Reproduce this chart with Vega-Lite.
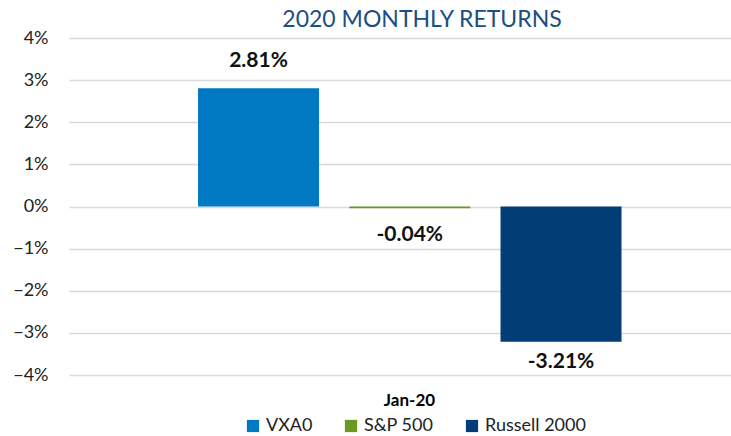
{
  "$schema": "https://vega.github.io/schema/vega-lite/v6.json",
  "autosize": "none",
  "width": 662,
  "height": 337,
  "padding": {"left": 69, "top": 38, "right": 0, "bottom": 61},
  "background": "white",
  "config": {
    "font": "Lato",
    "view": {"stroke": null}
  },
  "title": {
    "text": "2020 MONTHLY RETURNS",
    "anchor": "middle",
    "dx": 22,
    "offset": -3,
    "fontSize": 23,
    "fontWeight": "normal",
    "color": "#1B4F82",
    "font": "Lato"
  },
  "data": {
    "values": [
      {"series": "VXA0", "value": 0.0281, "label": "2.81%"},
      {"series": "S&P 500", "value": -0.0004, "label": "-0.04%"},
      {"series": "Russell 2000", "value": -0.0321, "label": "-3.21%"}
    ]
  },
  "encoding": {
    "x": {
      "field": "series",
      "type": "nominal",
      "sort": ["VXA0", "S&P 500", "Russell 2000"],
      "scale": {"paddingInner": 0.2, "paddingOuter": 0.7885, "align": 0.541},
      "axis": {
        "labels": false,
        "ticks": false,
        "domain": false,
        "title": "Jan-20",
        "titleFontSize": 17,
        "titleFontWeight": "bold",
        "titleColor": "#000000",
        "titlePadding": 17,
        "titleX": 340
      }
    },
    "y": {
      "field": "value",
      "type": "quantitative",
      "scale": {"domain": [-0.04, 0.04], "nice": false},
      "axis": {
        "format": ".0%",
        "values": [-0.04, -0.03, -0.02, -0.01, 0, 0.01, 0.02, 0.03, 0.04],
        "title": null,
        "domain": false,
        "ticks": false,
        "labelPadding": 21,
        "labelFontSize": 18,
        "labelColor": "#222222",
        "grid": true,
        "gridColor": "#D9D9D9",
        "gridWidth": 1.5
      }
    }
  },
  "layer": [
    {
      "mark": {"type": "bar"},
      "encoding": {
        "color": {
          "field": "series",
          "type": "nominal",
          "sort": ["VXA0", "S&P 500", "Russell 2000"],
          "scale": {"domain": ["VXA0", "S&P 500", "Russell 2000"], "range": ["#0079C2", "#6A9A1F", "#023E75"]},
          "legend": {
            "title": null,
            "orient": "none",
            "legendX": 175,
            "legendY": 379,
            "direction": "horizontal",
            "symbolType": "square",
            "symbolSize": 150,
            "symbolStrokeWidth": 0,
            "labelFontSize": 18,
            "labelColor": "#222222",
            "labelOffset": 4,
            "columnPadding": 29,
            "labelLimit": 200
          }
        }
      }
    },
    {
      "transform": [{"filter": "datum.value >= 0"}],
      "mark": {"type": "text", "baseline": "bottom", "dy": -17, "fontSize": 21, "fontWeight": "bold", "color": "#111111"},
      "encoding": {"text": {"field": "label"}}
    },
    {
      "transform": [{"filter": "datum.value < 0 && datum.value > -0.01"}],
      "mark": {"type": "text", "baseline": "top", "dy": 16, "fontSize": 21, "fontWeight": "bold", "color": "#111111"},
      "encoding": {"text": {"field": "label"}}
    },
    {
      "transform": [{"filter": "datum.value <= -0.01"}],
      "mark": {"type": "text", "baseline": "top", "dy": 9, "fontSize": 21, "fontWeight": "bold", "color": "#111111"},
      "encoding": {"text": {"field": "label"}}
    }
  ]
}
